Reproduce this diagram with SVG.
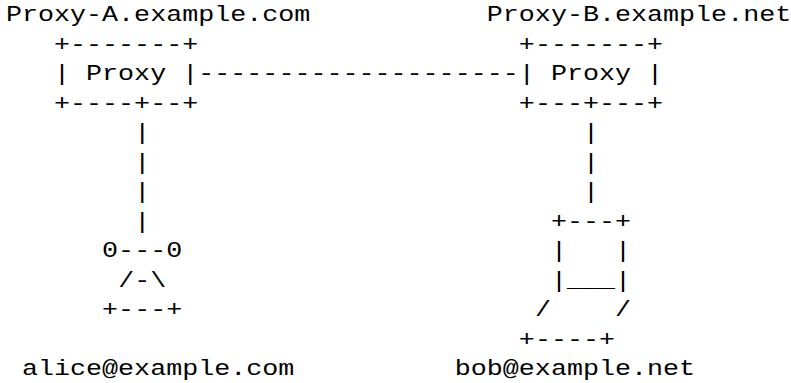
<svg xmlns="http://www.w3.org/2000/svg" width="791" height="383" viewBox="0 0 791 383" xml:space="preserve">
<style>
text { font-family: "Liberation Mono", "Courier New", monospace; font-size: 21.5px; fill: #000; white-space: pre; }
</style>
<rect x="0" y="0" width="791" height="383" fill="#fff"/>
<g transform="scale(1.2426 1)">
  <g id="proxy-a">
    <text x="4.77" y="21.3">Proxy-A.example.com</text>
    <text x="43.47" y="50.8">+-------+</text>
    <text x="43.47" y="80.3">| Proxy |</text>
    <text x="43.47" y="109.8">+----+--+</text>
  </g>
  <g id="proxy-b">
    <text x="391.77" y="21.3">Proxy-B.example.net</text>
    <text x="417.57" y="50.8">+-------+</text>
    <text x="417.57" y="80.3">| Proxy |</text>
    <text x="417.57" y="109.8">+---+---+</text>
  </g>
  <g id="connectors">
    <text x="159.57" y="80.3">--------------------</text>
    <text x="107.97" y="139.3">|</text>
    <text x="107.97" y="168.8">|</text>
    <text x="107.97" y="198.3">|</text>
    <text x="107.97" y="227.8">|</text>
    <text x="469.17" y="139.3">|</text>
    <text x="469.17" y="168.8">|</text>
    <text x="469.17" y="198.3">|</text>
  </g>
  <g id="alice">
    <text x="82.17" y="257.3">0---0</text>
    <text x="95.07" y="286.8">/-\</text>
    <text x="82.17" y="316.3">+---+</text>
    <text x="17.67" y="375.3">alice@example.com</text>
  </g>
  <g id="bob">
    <text x="443.37" y="227.8">+---+</text>
    <text x="443.37" y="257.3">|   |</text>
    <text x="443.37" y="286.8">|___|</text>
    <text x="430.47" y="316.3">/    /</text>
    <text x="417.57" y="345.8">+----+</text>
    <text x="365.97" y="375.3">bob@example.net</text>
  </g>
</g>
</svg>
